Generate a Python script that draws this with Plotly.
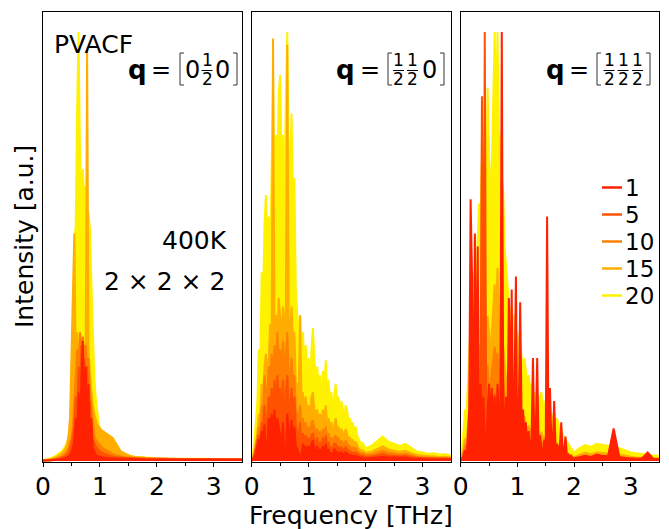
import plotly.graph_objects as go

# ---------------- data ----------------
freq = [0.000,0.025,0.050,0.075,0.100,0.125,0.150,0.175,
        0.200,0.225,0.250,0.275,0.300,0.325,0.350,0.375,
        0.400,0.425,0.450,0.475,0.500,0.525,0.550,0.575,
        0.600,0.625,0.650,0.675,0.700,0.725,0.750,0.775,
        0.800,0.825,0.850,0.875,0.900,0.925,0.950,0.975,
        1.000,1.025,1.050,1.075,1.100,1.125,1.150,1.175,
        1.200,1.225,1.250,1.275,1.300,1.325,1.350,1.375,
        1.400,1.425,1.450,1.475,1.500,1.525,1.550,1.575,
        1.600,1.625,1.650,1.675,1.700,1.725,1.750,1.775,
        1.800,1.825,1.850,1.875,1.900,1.925,1.950,1.975,
        2.0,2.1,2.2,2.3,2.4,2.5,2.6,2.7,2.8,2.9,3.0,3.1,3.2,3.3,3.4,3.5]

labels = [1, 5, 10, 15, 20]
colors = ['#ff2200', '#ff5200', '#ff8000', '#ffad00', '#fff200']

# panel 1: q = [0 1/2 0]
p1_n20 = [0.003,0.003,0.004,0.004,0.005,0.006,0.007,0.008,
          0.010,0.012,0.014,0.016,0.019,0.022,0.026,0.030,
          0.036,0.044,0.055,0.070,0.095,0.150,0.500,0.550,
          0.820,1.000,0.720,0.620,0.680,0.600,0.640,0.550,
          0.580,0.540,0.420,0.300,0.200,0.150,0.110,0.090,
          0.075,0.065,0.058,0.052,0.047,0.043,0.040,0.037,
          0.034,0.031,0.028,0.026,0.024,0.022,0.020,0.018,
          0.017,0.016,0.015,0.014,0.013,0.012,0.011,0.011,
          0.010,0.010,0.009,0.009,0.009,0.008,0.008,0.008,
          0.008,0.007,0.007,0.007,0.007,0.007,0.006,0.006,
          0.006,0.006,0.006,0.005,0.005,0.005,0.005,0.005,0.005,0.005,0.004,0.004,0.004,0.004,0.004,0.004]
p1_n15 = [0.002,0.002,0.003,0.003,0.004,0.004,0.005,0.006,
          0.007,0.008,0.010,0.012,0.014,0.017,0.020,0.025,
          0.030,0.040,0.060,0.100,0.240,0.350,0.530,0.250,
          0.300,0.220,0.280,0.220,0.250,0.220,0.240,0.960,
          0.260,0.200,0.160,0.130,0.110,0.095,0.085,0.080,
          0.075,0.072,0.070,0.068,0.066,0.064,0.062,0.060,
          0.058,0.054,0.048,0.042,0.036,0.030,0.026,0.022,
          0.020,0.018,0.016,0.014,0.013,0.012,0.011,0.010,
          0.010,0.009,0.009,0.009,0.008,0.008,0.008,0.008,
          0.007,0.007,0.007,0.007,0.007,0.006,0.006,0.006,
          0.006,0.006,0.005,0.005,0.005,0.005,0.005,0.005,0.005,0.005,0.004,0.004,0.004,0.004,0.004,0.004]
p1_n10 = [0.001,0.001,0.002,0.002,0.002,0.003,0.003,0.004,
          0.004,0.005,0.006,0.007,0.008,0.010,0.012,0.015,
          0.018,0.022,0.030,0.045,0.050,0.080,0.140,0.200,
          0.260,0.220,0.300,0.260,0.290,0.240,0.270,0.220,
          0.240,0.160,0.120,0.080,0.060,0.050,0.045,0.040,
          0.036,0.033,0.030,0.028,0.026,0.024,0.022,0.020,
          0.018,0.016,0.015,0.014,0.013,0.012,0.011,0.010,
          0.010,0.009,0.009,0.008,0.008,0.008,0.007,0.007,
          0.007,0.007,0.006,0.006,0.006,0.006,0.006,0.006,
          0.005,0.005,0.005,0.005,0.005,0.005,0.005,0.005,
          0.005,0.005,0.005,0.004,0.004,0.004,0.004,0.004,0.004,0.004,0.004,0.004,0.003,0.003,0.003,0.003]
p1_n5 = [0.001,0.001,0.001,0.002,0.002,0.002,0.003,0.003,
         0.003,0.004,0.004,0.005,0.006,0.007,0.008,0.010,
         0.012,0.015,0.020,0.030,0.040,0.060,0.080,0.150,
         0.100,0.220,0.160,0.270,0.200,0.240,0.180,0.220,
         0.120,0.140,0.060,0.050,0.040,0.035,0.030,0.025,
         0.022,0.020,0.018,0.016,0.015,0.014,0.013,0.012,
         0.011,0.010,0.010,0.009,0.009,0.008,0.008,0.008,
         0.007,0.007,0.007,0.007,0.006,0.006,0.006,0.006,
         0.006,0.006,0.005,0.005,0.005,0.005,0.005,0.005,
         0.005,0.005,0.005,0.005,0.004,0.004,0.004,0.004,
         0.004,0.004,0.004,0.004,0.004,0.004,0.004,0.004,0.004,0.004,0.004,0.004,0.004,0.004,0.004,0.004]
p1_n1 = [0.001,0.001,0.001,0.001,0.002,0.002,0.002,0.002,
         0.003,0.003,0.003,0.004,0.004,0.005,0.005,0.006,
         0.007,0.008,0.010,0.015,0.020,0.030,0.050,0.100,
         0.040,0.160,0.060,0.200,0.280,0.120,0.220,0.080,
         0.180,0.040,0.100,0.030,0.020,0.015,0.012,0.010,
         0.010,0.009,0.008,0.008,0.007,0.007,0.006,0.006,
         0.006,0.005,0.005,0.005,0.005,0.005,0.005,0.005,
         0.004,0.004,0.004,0.004,0.004,0.004,0.004,0.004,
         0.004,0.004,0.004,0.004,0.004,0.004,0.004,0.004,
         0.003,0.003,0.003,0.003,0.003,0.003,0.003,0.003,
         0.003,0.003,0.003,0.003,0.003,0.003,0.003,0.003,0.003,0.003,0.003,0.003,0.003,0.003,0.003,0.003]

# panel 2: q = [1/2 1/2 0]
p2_n20 = [0.005,0.020,0.050,0.090,0.140,0.260,0.220,0.440,
          0.380,0.550,0.620,0.500,0.570,0.450,0.700,0.900,
          0.600,0.760,0.680,0.860,0.900,0.700,0.760,0.620,
          0.850,1.000,0.720,0.680,0.810,0.600,0.660,0.400,
          0.340,0.300,0.340,0.260,0.300,0.220,0.270,0.200,
          0.240,0.180,0.260,0.310,0.240,0.200,0.220,0.180,
          0.200,0.150,0.210,0.170,0.235,0.160,0.190,0.140,
          0.160,0.120,0.150,0.180,0.130,0.150,0.110,0.140,
          0.120,0.100,0.130,0.120,0.090,0.100,0.080,0.090,
          0.070,0.080,0.060,0.050,0.045,0.040,0.042,0.035,
          0.030,0.035,0.045,0.057,0.045,0.040,0.035,0.040,0.030,0.022,0.020,0.017,0.018,0.015,0.016,0.013]
p2_n15 = [0.002,0.010,0.025,0.045,0.065,0.110,0.100,0.180,
          0.150,0.220,0.250,0.200,0.240,0.320,0.280,0.985,
          0.280,0.340,0.300,0.380,0.340,0.290,0.360,0.280,
          0.360,0.970,0.330,0.300,0.360,0.270,0.300,0.180,
          0.180,0.160,0.340,0.140,0.160,0.120,0.150,0.110,
          0.130,0.100,0.150,0.160,0.120,0.110,0.120,0.095,
          0.110,0.080,0.120,0.090,0.130,0.090,0.100,0.075,
          0.090,0.065,0.080,0.100,0.075,0.080,0.060,0.075,
          0.065,0.050,0.075,0.065,0.050,0.055,0.045,0.050,
          0.040,0.045,0.035,0.030,0.026,0.024,0.025,0.021,
          0.019,0.021,0.027,0.034,0.027,0.024,0.021,0.024,0.018,0.014,0.012,0.011,0.011,0.009,0.010,0.008]
p2_n10 = [0.001,0.007,0.020,0.035,0.055,0.080,0.070,0.130,
          0.120,0.200,0.160,0.150,0.220,0.190,0.250,0.200,
          0.270,0.200,0.300,0.230,0.260,0.190,0.280,0.200,
          0.240,0.300,0.200,0.190,0.240,0.170,0.200,0.120,
          0.110,0.095,0.130,0.080,0.100,0.075,0.090,0.070,
          0.080,0.060,0.090,0.095,0.075,0.065,0.075,0.055,
          0.070,0.050,0.075,0.055,0.080,0.055,0.065,0.048,
          0.055,0.042,0.055,0.060,0.048,0.055,0.035,0.048,
          0.042,0.035,0.048,0.042,0.035,0.035,0.028,0.031,
          0.028,0.031,0.025,0.021,0.019,0.017,0.018,0.015,
          0.014,0.015,0.019,0.024,0.019,0.017,0.015,0.017,0.013,0.010,0.009,0.008,0.008,0.007,0.007,0.006]
p2_n5 = [0.001,0.005,0.014,0.028,0.040,0.060,0.045,0.090,
         0.080,0.130,0.060,0.100,0.150,0.120,0.170,0.130,
         0.190,0.120,0.200,0.150,0.170,0.100,0.190,0.060,
         0.160,0.200,0.130,0.120,0.170,0.100,0.150,0.080,
         0.065,0.050,0.090,0.015,0.065,0.045,0.060,0.040,
         0.055,0.040,0.060,0.065,0.045,0.040,0.055,0.033,
         0.045,0.033,0.055,0.033,0.060,0.033,0.045,0.027,
         0.033,0.027,0.040,0.040,0.033,0.033,0.023,0.033,
         0.027,0.023,0.033,0.027,0.023,0.023,0.020,0.020,
         0.019,0.020,0.017,0.015,0.013,0.012,0.013,0.011,
         0.010,0.011,0.013,0.017,0.013,0.012,0.011,0.012,0.009,0.007,0.007,0.006,0.006,0.005,0.005,0.005]
p2_n1 = [0.000,0.004,0.010,0.020,0.035,0.050,0.030,0.070,
         0.055,0.085,0.005,0.040,0.100,0.070,0.110,0.060,
         0.120,0.055,0.100,0.080,0.070,0.040,0.090,0.010,
         0.008,0.110,0.070,0.055,0.095,0.045,0.080,0.035,
         0.028,0.020,0.006,0.014,0.040,0.028,0.035,0.020,
         0.035,0.020,0.040,0.048,0.028,0.020,0.035,0.014,
         0.028,0.014,0.035,0.014,0.040,0.014,0.028,0.014,
         0.020,0.014,0.028,0.024,0.017,0.020,0.014,0.020,
         0.017,0.014,0.020,0.017,0.014,0.014,0.012,0.012,
         0.011,0.012,0.010,0.008,0.008,0.007,0.008,0.006,
         0.006,0.007,0.008,0.010,0.008,0.008,0.007,0.008,0.006,0.005,0.004,0.004,0.004,0.004,0.004,0.004]

# panel 3: q = [1/2 1/2 1/2]
p3_n20 = [0.005,0.030,0.070,0.120,0.100,0.180,0.260,0.320,
          0.280,0.400,0.450,0.380,0.520,0.600,0.550,0.700,
          0.620,0.550,0.650,0.870,0.720,0.600,0.690,0.850,
          1.000,0.800,1.000,0.740,0.760,0.660,0.630,0.500,
          0.450,0.400,0.370,0.330,0.360,0.300,0.340,0.280,
          0.300,0.260,0.280,0.240,0.220,0.240,0.200,0.180,
          0.200,0.165,0.180,0.150,0.160,0.140,0.150,0.130,
          0.150,0.160,0.130,0.140,0.120,0.130,0.110,0.120,
          0.110,0.100,0.110,0.090,0.100,0.080,0.070,0.075,
          0.060,0.055,0.050,0.045,0.040,0.035,0.030,0.025,
          0.020,0.030,0.037,0.033,0.040,0.038,0.035,0.033,0.030,0.025,0.020,0.018,0.016,0.015,0.013,0.012]
p3_n15 = [0.002,0.011,0.030,0.052,0.045,0.075,0.112,0.150,
          0.128,0.180,0.210,0.165,0.240,0.270,0.225,0.740,
          0.270,0.225,0.285,0.338,0.300,0.240,0.300,0.360,
          0.412,0.338,0.450,0.315,0.330,0.285,0.270,0.225,
          0.195,0.165,0.158,0.142,0.158,0.128,0.142,0.120,
          0.128,0.105,0.120,0.098,0.090,0.105,0.082,0.075,
          0.082,0.068,0.075,0.060,0.068,0.056,0.060,0.056,
          0.060,0.068,0.056,0.056,0.052,0.056,0.045,0.052,
          0.045,0.041,0.045,0.038,0.041,0.034,0.030,0.030,
          0.026,0.022,0.021,0.019,0.016,0.015,0.013,0.011,
          0.009,0.015,0.019,0.016,0.020,0.019,0.017,0.016,0.015,0.012,0.010,0.008,0.008,0.007,0.006,0.006]
p3_n10 = [0.001,0.007,0.021,0.035,0.032,0.056,0.084,0.063,
          0.105,0.126,0.091,0.147,0.168,0.112,0.182,0.154,
          0.196,0.154,0.182,0.224,0.154,0.175,0.210,0.238,
          0.266,0.224,0.252,0.196,0.210,0.175,0.189,0.147,
          0.133,0.112,0.105,0.091,0.105,0.084,0.091,0.077,
          0.084,0.070,0.077,0.066,0.063,0.066,0.056,0.052,
          0.056,0.045,0.052,0.042,0.045,0.042,0.042,0.035,
          0.042,0.045,0.035,0.038,0.035,0.035,0.031,0.034,
          0.031,0.028,0.031,0.026,0.028,0.023,0.021,0.021,
          0.018,0.015,0.014,0.013,0.011,0.010,0.009,0.008,
          0.006,0.010,0.012,0.010,0.013,0.012,0.010,0.010,0.010,0.008,0.006,0.006,0.006,0.005,0.004,0.004]
p3_n5 = [0.001,0.005,0.012,0.021,0.018,0.036,0.054,0.042,
         0.066,0.078,0.054,0.096,0.114,0.066,0.132,0.850,
         0.132,1.000,0.108,0.132,0.096,0.120,0.138,0.108,
         0.156,0.132,0.168,0.120,0.132,0.108,0.120,0.090,
         0.078,0.066,0.060,0.054,0.066,0.048,0.060,0.054,
         0.054,0.042,0.048,0.039,0.036,0.039,0.036,0.030,
         0.036,0.027,0.030,0.027,0.029,0.024,0.027,0.022,
         0.027,0.029,0.022,0.024,0.020,0.022,0.018,0.020,
         0.018,0.018,0.020,0.016,0.018,0.013,0.012,0.012,
         0.011,0.010,0.009,0.008,0.007,0.006,0.005,0.005,
         0.004,0.006,0.007,0.007,0.008,0.007,0.007,0.007,0.006,0.005,0.004,0.004,0.003,0.003,0.003,0.003]
p3_n1 = [0.000,0.006,0.012,0.025,0.012,0.050,0.120,0.610,
         0.430,0.006,0.530,0.120,0.500,0.012,0.180,0.090,
         0.150,0.060,0.006,0.120,0.180,0.090,0.170,0.060,
         0.150,0.006,0.180,0.090,0.120,1.000,0.180,0.006,
         0.150,0.070,0.380,0.120,0.400,0.060,0.180,0.430,
         0.006,0.120,0.370,0.090,0.120,0.060,0.090,0.030,
         0.070,0.012,0.050,0.240,0.050,0.070,0.240,0.035,
         0.060,0.030,0.006,0.050,0.025,0.570,0.035,0.170,
         0.050,0.035,0.140,0.030,0.040,0.025,0.035,0.090,
         0.018,0.025,0.057,0.012,0.015,0.009,0.012,0.007,
         0.006,0.009,0.012,0.009,0.015,0.012,0.011,0.076,0.009,0.007,0.006,0.005,0.006,0.020,0.005,0.004]

panels = [
    [p1_n1, p1_n5, p1_n10, p1_n15, p1_n20],
    [p2_n1, p2_n5, p2_n10, p2_n15, p2_n20],
    [p3_n1, p3_n5, p3_n10, p3_n15, p3_n20],
]
for pan in panels:
    for s in pan:
        assert len(s) == len(freq), len(s)

# ---------------- geometry ----------------
W, H = 669, 529
ML, MR, MT, MB = 43, 10, 12, 67
PW, PH = W - ML - MR, H - MT - MB
FONT = 'DejaVu Sans'
FS = 25


def px(xp):
    return (xp - ML) / PW


def py(yp):
    return (MT + PH - yp) / PH


domains = [[0, px(242.2)], [px(251.7), px(451)], [px(460.7), 1]]

fig = go.Figure()
for k, pan in enumerate(panels):
    xa = 'x' if k == 0 else f'x{k + 1}'
    ya = 'y' if k == 0 else f'y{k + 1}'
    # draw 20 first, 1 last
    for idx in [4, 3, 2, 1, 0]:
        fig.add_trace(go.Scatter(
            x=freq, y=pan[idx], mode='lines', fill='tozeroy',
            fillcolor=colors[idx],
            line=dict(color=colors[idx], width=2),
            xaxis=xa, yaxis=ya, showlegend=False, hoverinfo='skip'))

axis_common = dict(showline=True, linecolor='black', linewidth=1.2, mirror=True,
                   showgrid=False, zeroline=False)
layout = dict(width=W, height=H, margin=dict(l=ML, r=MR, t=MT, b=MB),
              paper_bgcolor='white', plot_bgcolor='white', showlegend=False)
for k in range(3):
    sx = '' if k == 0 else str(k + 1)
    layout['xaxis' + sx] = dict(
        domain=domains[k], range=[0, 3.5], anchor='y' + sx,
        tickvals=[0, 1, 2, 3], ticktext=['0', '1', '2', '3'],
        ticks='outside', ticklen=4, tickwidth=1.2, tickcolor='black',
        ticklabelstandoff=-2,
        tickfont=dict(family=FONT, size=FS, color='black'),
        minor=dict(tickvals=[0.5, 1.5, 2.5], ticks='outside', ticklen=3,
                   tickwidth=1.2, tickcolor='black'),
        **axis_common)
    layout['yaxis' + sx] = dict(
        domain=[0, 1], range=[-0.0023, 1.0466], anchor='x' + sx,
        showticklabels=False, ticks='', **axis_common)
fig.update_layout(**layout)

annotations = []
shapes = []


def ann(text, xp, yp, size=FS, xanchor='center', angle=0):
    annotations.append(dict(text=text, x=px(xp), y=py(yp), xref='paper', yref='paper',
                            showarrow=False, xanchor=xanchor, yanchor='middle',
                            textangle=angle, borderpad=0,
                            font=dict(family=FONT, size=size, color='black')))


def seg(x0, y0, x1, y1, color='black', width=1.0):
    shapes.append(dict(type='line', xref='paper', yref='paper',
                       x0=px(x0), y0=py(y0), x1=px(x1), y1=py(y1),
                       line=dict(color=color, width=width)))


def bracket(xa, xb, top, bot, left=True):
    xv = xa if left else xb
    xe = xb if left else xa
    seg(xv, top, xv, bot, '#333333', 1.0)
    seg(xv, top, xe, top, '#333333', 1.0)
    seg(xv, bot, xe, bot, '#333333', 1.0)


def frac(xc, ytop=60, ybar=70.5, ybot=79):
    ann('1', xc, ytop, size=17)
    seg(xc - 5.5, ybar, xc + 5.5, ybar, 'black', 1.0)
    ann('2', xc, ybot, size=17)


QY = 69.5
QS = 24
# panel 1 label
ann('<b>q</b>', 137, QY, 26)
ann('=', 160.5, QY, QS)
bracket(180, 184, 53, 85, True)
ann('0', 192.5, QY, QS)
frac(207)
ann('0', 222.5, QY, QS)
bracket(233, 237, 53, 85, False)
# panel 2 label
ann('<b>q</b>', 345.5, QY, 26)
ann('=', 370, QY, QS)
bracket(388, 392, 53, 85, True)
frac(398.5)
frac(412.5)
ann('0', 429.5, QY, QS)
bracket(440, 444, 53, 85, False)
# panel 3 label
ann('<b>q</b>', 555, QY, 26)
ann('=', 578.5, QY, QS)
bracket(597, 601, 53, 85, True)
frac(609)
frac(623)
frac(637.5)
bracket(646, 650, 53, 85, False)

ann('PVACF', 53, 44.5, FS, xanchor='left')
ann('400K', 228, 240.5, FS, xanchor='right')
ann('2 × 2 × 2', 226, 281, FS, xanchor='right')

# axis titles
ann('Frequency [THz]', 351, 515, FS)
ann('Intensity [a.u.]', 24, 237, FS, angle=-90)

# legend
leg_y = [187.5, 214.5, 241.5, 268.5, 295.5]
for lab, col, yl in zip(labels, colors, leg_y):
    seg(602, yl, 622, yl, col, 2.5)
    ann(str(lab), 624, yl + 0.5, 23, xanchor='left')

fig.update_layout(annotations=annotations, shapes=shapes)
fig.write_html('out.html', config={'displayModeBar': False},
               post_script="document.body.style.margin='0px';document.body.style.padding='0px';")
